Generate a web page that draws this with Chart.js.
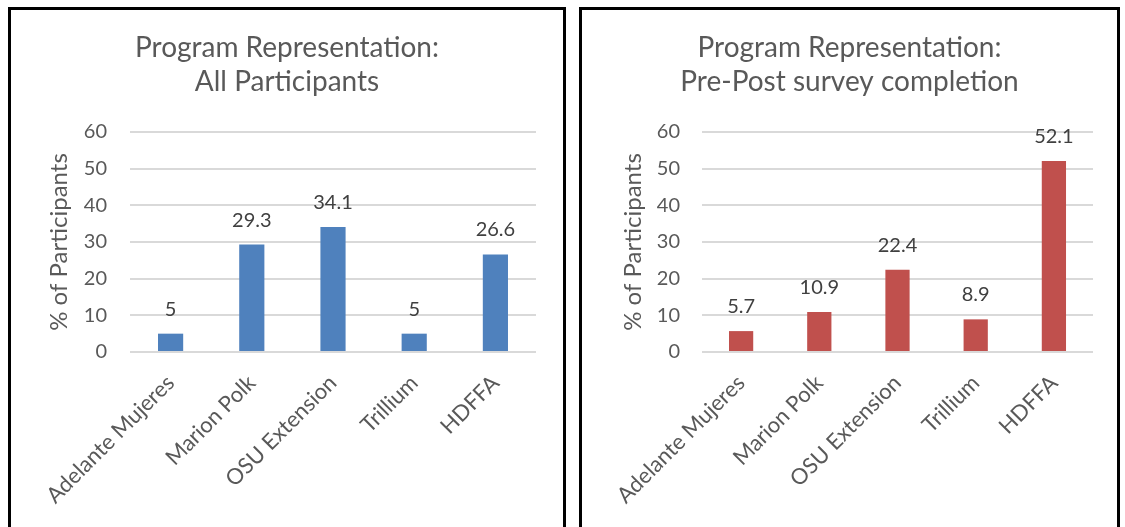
<!DOCTYPE html>
<html>
<head>
<meta charset="utf-8">
<script src="https://cdn.jsdelivr.net/npm/chart.js@4"></script>
<style>
  body { margin: 0; background: #fff; width: 1125px; height: 527px; overflow: hidden; position: relative; }
  .panel { position: absolute; top: 7px; height: 540px; border: 3px solid #000; box-sizing: border-box; background: #fff; }
  #p1 { left: 8px; width: 558px; }
  #p2 { left: 579px; width: 541px; }
  .wrap { position: absolute; left: 0; top: 0; height: 517px; }
  #p1 .wrap { width: 552px; }
  #p2 .wrap { width: 535px; }
</style>
</head>
<body>
<div class="panel" id="p1"><div class="wrap"><canvas id="chart1"></canvas></div></div>
<div class="panel" id="p2"><div class="wrap"><canvas id="chart2"></canvas></div></div>
<script>
const categories = ['Adelante Mujeres', 'Marion Polk', 'OSU Extension', 'Trillium', 'HDFFA'];
const allParticipants = [5, 29.3, 34.1, 5, 26.6];
const prePostCompletion = [5.7, 10.9, 22.4, 8.9, 52.1];
const yMin = 0;
const yMax = 60;
const yStep = 10;

const fontFamily = 'Lato, "Open Sans", sans-serif';
const grey = '#595959';

// draws the number above each bar
const valueLabels = {
  id: 'valueLabels',
  afterDatasetsDraw(chart) {
    const ctx = chart.ctx;
    const meta = chart.getDatasetMeta(0);
    const data = chart.data.datasets[0].data;
    ctx.save();
    ctx.font = '20px ' + fontFamily;
    ctx.fillStyle = '#404040';
    ctx.textAlign = 'center';
    ctx.textBaseline = 'alphabetic';
    meta.data.forEach((bar, i) => {
      ctx.fillText(String(data[i]), bar.x, bar.y - 18);
    });
    ctx.restore();
  }
};

// side padding is the same on both sides so the title stays centred
function makeChart(id, titleLines, values, color, sidePad, axisWidth, tickPad, yTitlePad) {
  const ctx = document.querySelector(id).getContext('2d');
  return new Chart(ctx, {
    type: 'bar',
    data: {
      labels: categories,
      datasets: [{
        data: values,
        backgroundColor: color,
        borderWidth: 0,
        categoryPercentage: 1,
        barPercentage: 0.31
      }]
    },
    options: {
      responsive: true,
      maintainAspectRatio: false,
      animation: false,
      layout: { padding: { left: sidePad, right: sidePad, top: 0, bottom: 0 } },
      scales: {
        x: {
          grid: { display: false },
          border: { display: false },
          ticks: {
            color: grey,
            font: { family: fontFamily, size: 22 },
            minRotation: 45,
            maxRotation: 45,
            padding: 10
          },
          afterFit(scale) { scale.height = 175; }
        },
        y: {
          min: yMin,
          max: yMax,
          grid: { color: '#d9d9d9', lineWidth: 2, drawTicks: false },
          border: { display: false },
          ticks: {
            stepSize: yStep,
            color: grey,
            font: { family: fontFamily, size: 20 },
            padding: tickPad
          },
          title: {
            display: true,
            text: '% of Participants',
            color: grey,
            font: { family: fontFamily, size: 24 },
            padding: { top: yTitlePad, bottom: 0 }
          },
          afterFit(scale) { scale.width = axisWidth; }
        }
      },
      plugins: {
        legend: { display: false },
        tooltip: { enabled: false },
        title: {
          display: true,
          text: titleLines,
          color: grey,
          font: { family: fontFamily, size: 28, weight: 'normal', lineHeight: 1.214 },
          padding: { top: 21, bottom: 33 }
        }
      }
    },
    plugins: [valueLabels]
  });
}

makeChart('#chart1', ['Program Representation:', 'All Participants'], allParticipants, '#4f81bd', 27, 92, 23, 7);
makeChart('#chart2', ['Program Representation:', 'Pre-Post survey completion'], prePostCompletion, '#c0504d', 24, 96, 22, 13);
</script>
</body>
</html>
